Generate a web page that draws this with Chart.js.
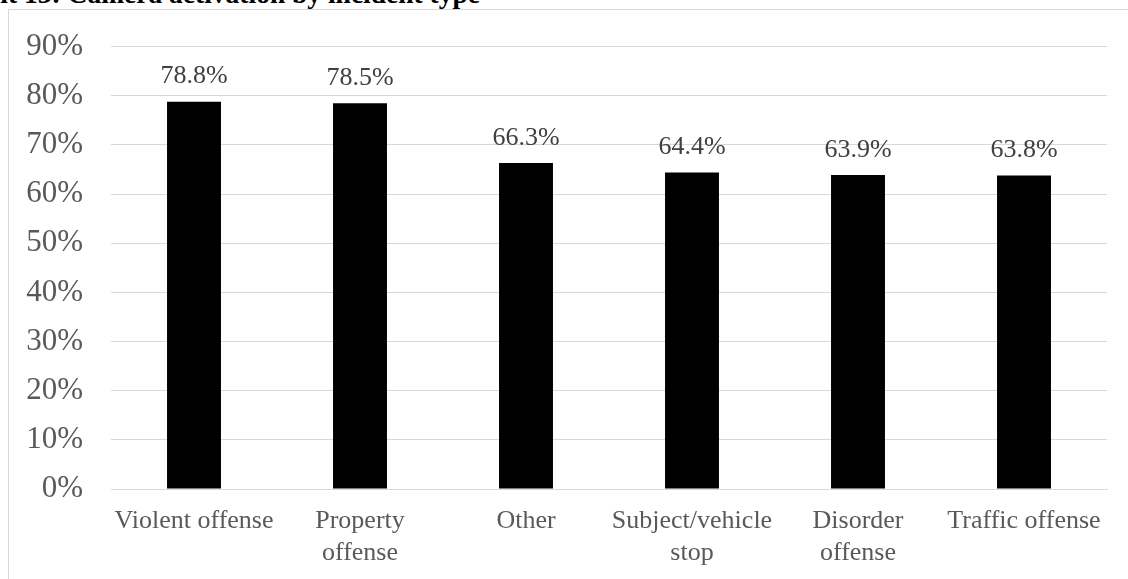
<!DOCTYPE html>
<html>
<head>
<meta charset="utf-8">
<script src="https://cdn.jsdelivr.net/npm/chart.js@4/dist/chart.umd.min.js"></script>
<style>
    html, body { margin: 0; padding: 0; background: #fff; overflow: hidden; }
    #frame { position: absolute; left: 8px; top: 9px; width: 1200px; height: 700px; border: 1px solid #d9d9d9; }
    #title { position: absolute; right: 648px; top: -20px; white-space: nowrap; font: bold 27.5px "Liberation Serif", "Times New Roman", serif; line-height: 1; color: #000; }
    #wrap { position: absolute; left: 0; top: 0; width: 1128px; height: 579px; }
</style>
</head>
<body>
<div id="frame"></div>
<div id="title">Exhibit 13: Camera activation by incident type</div>
<div id="wrap"><canvas id="barChart"></canvas></div>
<script>
// Dados do gráfico
var categorias = ['Violent offense', ['Property', 'offense'], 'Other', ['Subject/vehicle', 'stop'], ['Disorder', 'offense'], 'Traffic offense'];
var ativacao = [78.8, 78.5, 66.3, 64.4, 63.9, 63.8];
var ticksY = [0, 10, 20, 30, 40, 50, 60, 70, 80, 90];

var serif = '"Liberation Serif", "Times New Roman", serif';

// rótulos em cima das barras
var rotulos = {
    id: 'rotulos',
    afterDatasetsDraw: function (chart) {
        var ctx = chart.ctx;
        var meta = chart.getDatasetMeta(0);
        ctx.save();
        ctx.font = '26px ' + serif;
        ctx.fillStyle = '#404040';
        ctx.textAlign = 'center';
        ctx.textBaseline = 'middle';
        meta.data.forEach(function (bar, i) {
            ctx.fillText(ativacao[i].toFixed(1) + '%', bar.x, bar.y - 25);
        });
        ctx.restore();
    }
};

var ctx = document.getElementById('barChart').getContext('2d');
new Chart(ctx, {
    type: 'bar',
    data: {
        labels: categorias,
        datasets: [{
            data: ativacao,
            backgroundColor: '#000000',
            borderWidth: 0,
            categoryPercentage: 1,
            barPercentage: 0.325
        }]
    },
    options: {
        responsive: true,
        maintainAspectRatio: false,
        animation: false,
        layout: { padding: { top: 40, right: 21, left: 0, bottom: 0 } },
        plugins: {
            legend: { display: false },
            tooltip: { enabled: false }
        },
        scales: {
            x: {
                grid: { display: false, drawTicks: false },
                border: { display: true, color: '#d9d9d9', width: 1 },
                ticks: {
                    color: '#595959',
                    font: { family: serif, size: 26, lineHeight: 1.2 },
                    padding: 17,
                    maxRotation: 0,
                    autoSkip: false
                },
                afterFit: function (scale) { scale.height = 90; }
            },
            y: {
                min: 0,
                max: 90,
                afterBuildTicks: function (scale) {
                    scale.ticks = ticksY.map(function (v) { return { value: v }; });
                },
                grid: { color: '#d9d9d9', lineWidth: 1, drawTicks: false },
                border: { display: false },
                ticks: {
                    color: '#595959',
                    font: { family: serif, size: 31 },
                    padding: 28,
                    callback: function (v) { return v + '%'; }
                },
                afterFit: function (scale) { scale.width = 111; }
            }
        }
    },
    plugins: [rotulos]
});
</script>
</body>
</html>
